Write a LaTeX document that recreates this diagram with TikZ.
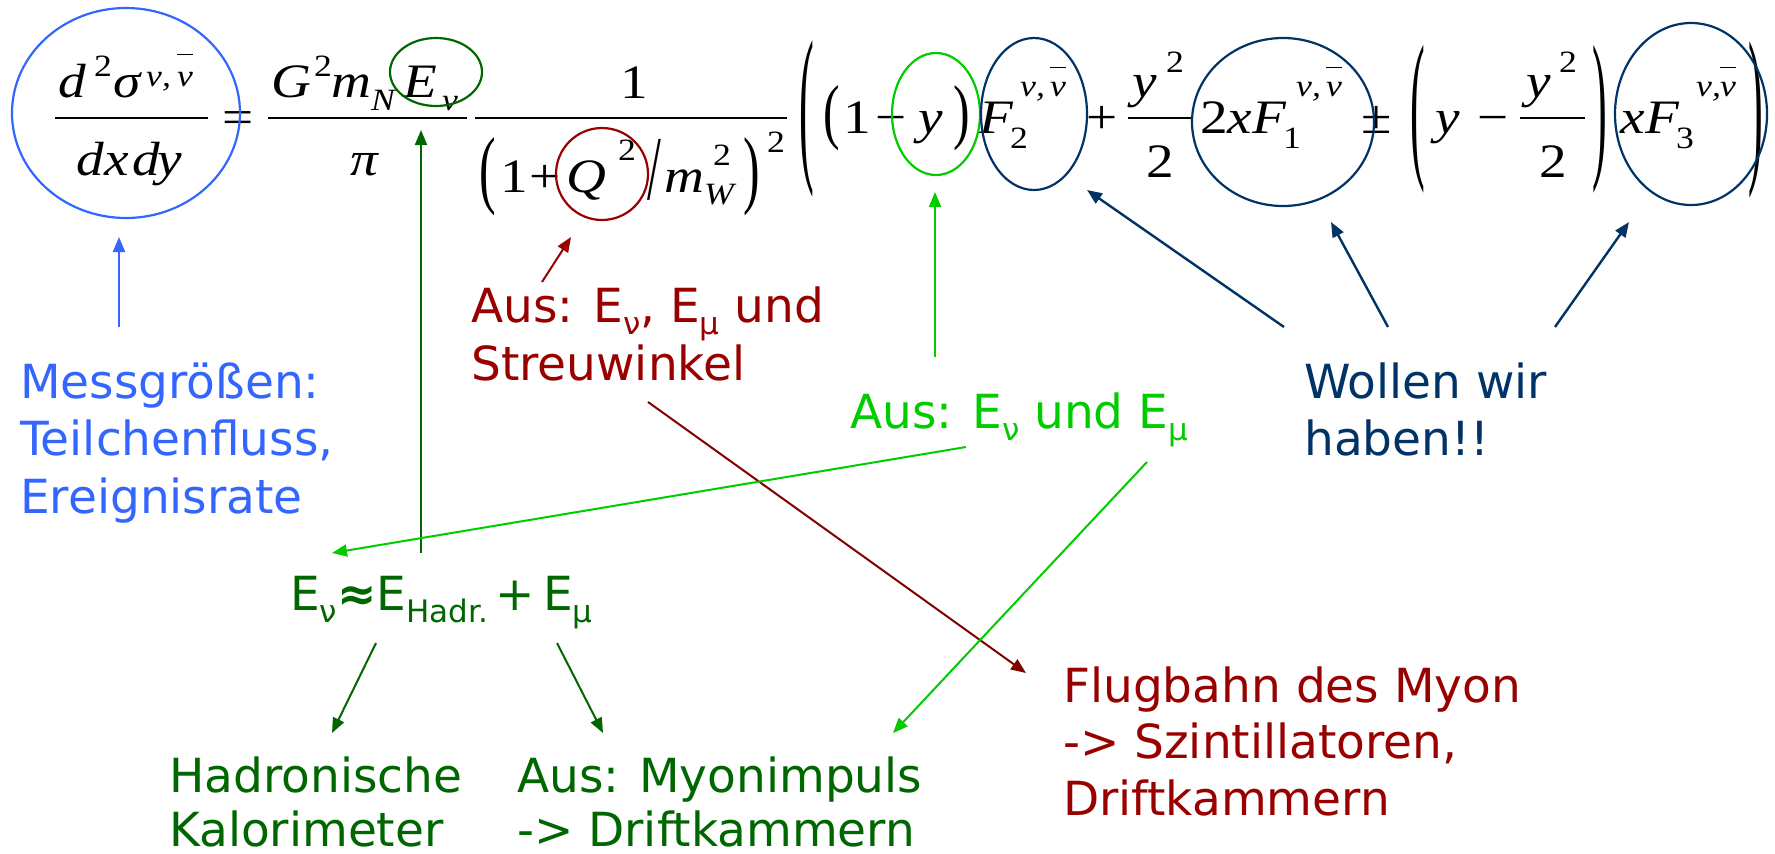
\documentclass[tikz,border=0pt]{standalone}
\usepackage{fontspec}
\setmainfont{DejaVu Sans}
\newfontfamily\mf[FakeStretch=1.15]{Liberation Serif}
\usetikzlibrary{arrows.meta,shapes.geometric}

\definecolor{cblue}{HTML}{3366FF}
\definecolor{cred}{HTML}{990000}
\definecolor{cgreen}{HTML}{00CC00}
\definecolor{cdkgreen}{HTML}{006600}
\definecolor{cnavy}{HTML}{003366}

% lowered subscript inside the sans labels
\newcommand\lowsub[1]{\raisebox{-0.26em}{\fontsize{31}{31}\selectfont #1}}

\begin{document}
\begin{tikzpicture}[x=1pt,y=-1pt,
  lbl/.style={inner sep=0pt, anchor=base west, font=\fontsize{47}{57}\selectfont},
  mi/.style={inner sep=0pt, anchor=base west, font=\mf\itshape\fontsize{48}{48}\selectfont},
  mu/.style={inner sep=0pt, anchor=base west, font=\mf\fontsize{48}{48}\selectfont},
  si/.style={inner sep=0pt, anchor=base west, font=\mf\itshape\fontsize{31}{31}\selectfont},
  su/.style={inner sep=0pt, anchor=base west, font=\mf\fontsize{31}{31}\selectfont},
  dlm/.style={inner sep=0pt, anchor=center, font=\mf\fontsize{48}{48}\selectfont},
  fbar/.style={line width=2.4pt},
  obar/.style={line width=1.8pt},
  ring/.style={ellipse, draw, line width=2.2pt, inner sep=0pt},
  arr/.style={line width=2pt, -{Triangle[length=15pt,width=12pt]}},
]
\fill[white] (0,0) rectangle (1775,854);
\useasboundingbox (0,0) rectangle (1775,854);

% ---------- left-hand side ----------
\node[mi] (lhsd) at (58,97) {d};
\node[su] (lhs2) at (94,76) {2};
\node[mi] (lhss) at (113,97) {σ};
\node[si] (lhsn) at (146,86) {ν,};
\node[si] (lhsnb) at (177,86) {ν};
\draw[obar] ([yshift=17pt]lhsnb.north west) -- ([yshift=17pt]lhsnb.north east);
\draw[fbar] (55,118) -- (208,118);
\node[mi] (dxa) at (76,175) {d};
\node[mi] (dxb) at (104,175) {x};
\node[mi] (dxc) at (132,175) {d};
\node[mi] (dxd) at (157,175) {y};
\node[mu] (eq) at (222,133) {=};

% ---------- G^2 m_N E_nu / pi ----------
\node[mi] (G) at (271,97) {G};
\node[su] (G2) at (314,76) {2};
\node[mi] (mN) at (331,97) {m};
\node[si] (mNs) at (371,110) {N};
\node[mi] (E) at (403,97) {E};
\node[si] (Enu) at (442,110) {ν};
\draw[fbar] (268,118) -- (467,118);
\node[mi] (pi) at (350,175) {π};

% ---------- propagator ----------
\node[mu] (one) at (620,98) {1};
\draw[fbar] (475,118) -- (787,118);
\node[dlm] (dpl) at (488,177) {\scalebox{0.9}[1.8]{(}};
\node[mu] (d1) at (500,192) {1};
\node[mu] (dplus) at (529,192) {+};
\node[mi] (Q) at (566,192) {Q};
\node[su] (Q2) at (618,160) {2};
\node[dlm] (sl) at (654,170) {\scalebox{0.9}[1.9]{/}};
\node[mi] (mW) at (664,192) {m};
\node[si] (W) at (704,204) {W};
\node[su] (W2) at (713,165) {2};
\node[dlm] (dpr) at (752,177) {\scalebox{0.9}[1.8]{)}};
\node[su] (sq) at (767,152) {2};

% ---------- structure functions ----------
\node[dlm] (bl) at (807,119) {\scalebox{0.8}[3.6]{(}};
\node[dlm] (pl1) at (832,118) {\scalebox{0.9}[1.5]{(}};
\node[mu] (one2) at (843,133) {1};
\node[mu] (minus1) at (875,133) {−};
\node[mi] (y1) at (918,133) {y};
\node[dlm] (pr1) at (962,118) {\scalebox{0.9}[1.5]{)}};
\node[mi] (F2) at (979,133) {F};
\node[su] (F2s) at (1010,148) {2};
\node[si] (F2a) at (1020,96) {ν,};
\node[si] (F2b) at (1050,96) {ν};
\draw[obar] ([yshift=14pt]F2b.north west) -- ([yshift=14pt]F2b.north east);
\node[mu] (plus2) at (1086,133) {+};
\draw[fbar] (1128,118) -- (1192,118);
\node[mi] (yy1) at (1132,97) {y};
\node[su] (yy1s) at (1166,72) {2};
\node[mu] (two1) at (1146,177) {2};
\node[mu] (two2) at (1200,133) {2};
\node[mi] (x1) at (1227,133) {x};
\node[mi] (F1) at (1252,133) {F};
\node[su] (F1s) at (1283,148) {1};
\node[si] (F1a) at (1296,96) {ν,};
\node[si] (F1b) at (1326,96) {ν};
\draw[obar] ([yshift=14pt]F1b.north west) -- ([yshift=14pt]F1b.north east);
\node[mu] (pm) at (1361,133) {±};
\node[dlm] (bl2) at (1418,119) {\scalebox{0.8}[3.4]{(}};
\node[mi] (y3) at (1435,133) {y};
\node[mu] (minus2) at (1477,133) {−};
\draw[fbar] (1520,118) -- (1585,118);
\node[mi] (yy2) at (1526,97) {y};
\node[su] (yy2s) at (1559,72) {2};
\node[mu] (two3) at (1539,177) {2};
\node[dlm] (br2) at (1600,119) {\scalebox{0.8}[3.4]{)}};
\node[mi] (x3) at (1620,133) {x};
\node[mi] (F3) at (1645,133) {F};
\node[su] (F3s) at (1676,148) {3};
\node[si] (F3a) at (1696,96) {ν,};
\node[si] (F3b) at (1720,96) {ν};
\draw[obar] ([yshift=14pt]F3b.north west) -- ([yshift=14pt]F3b.north east);
\node[dlm] (br) at (1756,120) {\scalebox{0.8}[3.6]{)}};

% ---------- highlighting ellipses ----------
\node[ring, cblue, minimum width=228pt, minimum height=210pt] (eLhs) at (126,113) {};
\node[ring, cdkgreen, minimum width=92pt, minimum height=68pt] (eE) at (436,72) {};
\node[ring, cred, minimum width=92pt, minimum height=92pt] (eQ) at (602,174) {};
\node[ring, cgreen, minimum width=88pt, minimum height=122pt] (eY) at (936,114) {};
\node[ring, cnavy, minimum width=106pt, minimum height=152pt] (eF2) at (1034,114) {};
\node[ring, cnavy, minimum width=182pt, minimum height=168pt] (eF1) at (1283,122) {};
\node[ring, cnavy, minimum width=152pt, minimum height=182pt] (eF3) at (1691,114) {};

% ---------- labels ----------
\node[lbl, cblue] (mess1) at (20,398) {Messgrößen:};
\node[lbl, cblue] (mess2) at (20,455) {Teilchenfluss,};
\node[lbl, cblue] (mess3) at (20,513) {Ereignisrate};
\node[lbl, cred] (aus1) at (471,322) {Aus: E\lowsub{ν}, E\lowsub{µ} und};
\node[lbl, cred] (aus2) at (471,380) {Streuwinkel};
\node[lbl, cgreen] (ausg) at (850,428) {Aus: E\lowsub{ν} und E\lowsub{µ}};
\node[lbl, cnavy] (wol1) at (1304,398) {Wollen wir};
\node[lbl, cnavy] (wol2) at (1304,455) {haben!!};
\node[lbl, cdkgreen] (esum) at (290,610) {E\lowsub{ν}\textbf{≈}E\lowsub{Hadr.}\,+\,E\lowsub{µ}};
\node[lbl, cdkgreen] (had1) at (169,792) {Hadronische};
\node[lbl, cdkgreen] (had2) at (169,846) {Kalorimeter};
\node[lbl, cdkgreen] (myo1) at (517,792) {Aus: Myonimpuls};
\node[lbl, cdkgreen] (myo2) at (517,846) {-> Driftkammern};
\node[lbl, cred] (flug1) at (1063,702) {Flugbahn des Myon};
\node[lbl, cred] (flug2) at (1063,758) {-> Szintillatoren,};
\node[lbl, cred] (flug3) at (1063,815) {Driftkammern};

% ---------- arrow end points ----------
\coordinate (pMessTop) at (119,327);
\coordinate (pLhsTip) at (119,237);
\coordinate (pSumTop) at (421,553);
\coordinate (pEnuTip) at (421,130);
\coordinate (pAusTop) at (542,282);
\coordinate (pQTip) at (571,237);
\coordinate (pAusLow) at (648,402);
\coordinate (pFlugTip) at (1026,673);
\coordinate (pGrTop) at (935,357);
\coordinate (pYTip) at (935,192);
\coordinate (pGrLeft) at (966,447);
\coordinate (pSumTip) at (332,553);
\coordinate (pGrRight) at (1147,462);
\coordinate (pMyoTip) at (893,733);
\coordinate (pWolA) at (1284,327);
\coordinate (pF2Tip) at (1087,190);
\coordinate (pWolB) at (1388,327);
\coordinate (pF1Tip) at (1331,222);
\coordinate (pWolC) at (1555,327);
\coordinate (pF3Tip) at (1629,222);
\coordinate (pSumA) at (376,643);
\coordinate (pHadTip) at (332,733);
\coordinate (pSumB) at (557,643);
\coordinate (pMyoTipB) at (603,733);

% ---------- arrows ----------
\draw[arr, cblue] (pMessTop) -- (pLhsTip);
\draw[arr, cdkgreen] (pSumTop) -- (pEnuTip);
\draw[arr, cred] (pAusTop) -- (pQTip);
\draw[arr, cred!85!black] (pAusLow) -- (pFlugTip);
\draw[arr, cgreen] (pGrTop) -- (pYTip);
\draw[arr, cgreen] (pGrLeft) -- (pSumTip);
\draw[arr, cgreen] (pGrRight) -- (pMyoTip);
\draw[arr, cnavy, line width=2.4pt] (pWolA) -- (pF2Tip);
\draw[arr, cnavy, line width=2.4pt] (pWolB) -- (pF1Tip);
\draw[arr, cnavy, line width=2.4pt] (pWolC) -- (pF3Tip);
\draw[arr, cdkgreen] (pSumA) -- (pHadTip);
\draw[arr, cdkgreen] (pSumB) -- (pMyoTipB);
\end{tikzpicture}
\end{document}
